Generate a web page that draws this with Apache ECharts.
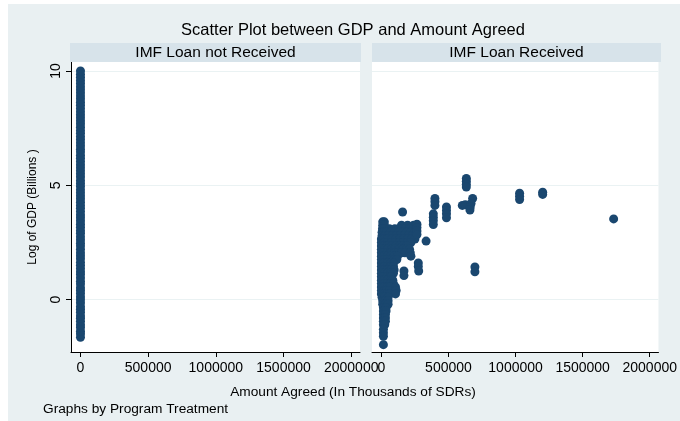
<!DOCTYPE html>
<html><head><meta charset="utf-8">
<script src="https://cdn.jsdelivr.net/npm/echarts@6/dist/echarts.min.js"></script>
<style>html,body{margin:0;padding:0;background:#fff}#c{width:680px;height:421px}</style>
</head><body><div id="c"></div><script>
// ---- data ----
const chartTitle = 'Scatter Plot between GDP and Amount Agreed';
const panelTitles = ['IMF Loan not Received', 'IMF Loan Received'];
const xAxisTitle = 'Amount Agreed (In Thousands of SDRs)';
const yAxisTitle = 'Log of GDP (Billions )';
const noteText = 'Graphs by Program Treatment';
const xTicks = [0, 500000, 1000000, 1500000, 2000000];
const yTicks = [0, 5, 10];

// Panel 1: loan not received (amount agreed = 0)
const notReceivedAmount = 0;
const notReceivedLogGDP = [-1.65, -1.5, -1.38, -1.22, -1.1, -0.95, -0.81, -0.7, -0.55, -0.42, -0.3, -0.14, 0.0, 0.12, 0.27, 0.4, 0.52, 0.68, 0.8, 0.95, 1.1, 1.22, 1.36, 1.5, 1.63, 1.79, 1.92, 2.05, 2.2, 2.34, 2.47, 2.61, 2.75, 2.9, 3.02, 3.17, 3.3, 3.44, 3.58, 3.7, 3.85, 3.99, 4.12, 4.26, 4.4, 4.53, 4.67, 4.8, 4.95, 5.08, 5.21, 5.36, 5.5, 5.63, 5.77, 5.9, 6.04, 6.18, 6.31, 6.45, 6.58, 6.72, 6.86, 7.0, 7.13, 7.27, 7.4, 7.54, 7.68, 7.81, 7.95, 8.08, 8.22, 8.36, 8.5, 8.63, 8.77, 8.9, 9.04, 9.18, 9.31, 9.45, 9.58, 9.72, 9.85, 10.0];

// Panel 2: loan received — rows of points sharing a log-GDP level
const receivedRowLogGDP = [3.40, 3.25, 3.10, 2.95, 2.80, 2.65, 2.50, 2.35, 2.20, 2.05, 1.90, 1.75, 1.60, 1.45, 1.30, 1.15, 1.00, 0.85, 0.70, 0.55, 0.40, 0.25, 0.10, -0.05, -0.20, -0.35, -0.50, -0.65, -0.80, -0.95, -1.10, -1.30, -1.45, -1.60, -1.97];
const receivedRowAmounts = [
  [10000, 22000],
  [10000, 22000, 150000, 195000, 240000, 262000],
  [8000, 20000, 60000, 100000, 130000, 155000, 180000, 210000, 240000, 262000],
  [5000, 20000, 40000, 70000, 100000, 130000, 160000, 190000, 220000, 250000],
  [5000, 25000, 50000, 80000, 110000, 140000, 170000, 200000, 230000, 255000],
  [0, 20000, 45000, 75000, 105000, 135000, 165000, 195000, 225000, 250000],
  [0, 20000, 45000, 75000, 105000, 135000, 165000, 195000, 220000],
  [0, 20000, 45000, 75000, 105000, 135000, 160000, 190000],
  [0, 20000, 45000, 75000, 100000, 130000, 160000, 185000, 210000],
  [0, 20000, 45000, 70000, 100000, 125000, 150000, 175000, 215000],
  [0, 20000, 45000, 70000, 95000, 120000, 220000],
  [0, 20000, 45000, 70000, 95000, 115000],
  [0, 20000, 45000, 70000, 90000],
  [0, 20000, 45000, 70000, 90000],
  [0, 20000, 45000, 70000, 95000],
  [0, 20000, 45000, 70000, 90000],
  [0, 20000, 45000, 70000],
  [0, 20000, 45000, 70000, 85000],
  [0, 20000, 45000, 65000, 90000],
  [0, 20000, 45000, 65000, 105000],
  [0, 20000, 40000, 60000, 110000],
  [0, 20000, 40000, 60000, 105000],
  [5000, 25000, 50000],
  [10000, 30000, 50000],
  [10000, 30000, 50000],
  [15000, 35000],
  [15000, 35000],
  [15000, 30000],
  [15000, 30000],
  [15000, 30000],
  [15000, 25000],
  [15000],
  [15000],
  [15000],
  [15000]
];
// Panel 2: scattered larger agreements [amount, logGDP]
const receivedOutliers = [
  [1731000, 3.53],
  [1202000, 4.70], [1202000, 4.60],
  [1030000, 4.65], [1030000, 4.52], [1030000, 4.38],
  [633000, 5.30], [633000, 5.18], [633000, 5.05], [633000, 4.92],
  [603000, 4.12], [625000, 4.15],
  [680000, 4.42], [668000, 4.20], [662000, 4.05], [660000, 3.92],
  [697000, 1.43], [697000, 1.22],
  [485000, 4.05], [485000, 3.90], [485000, 3.75], [485000, 3.58],
  [399000, 4.42], [399000, 4.28], [399000, 4.12],
  [387000, 3.75], [387000, 3.60], [387000, 3.45], [387000, 3.28],
  [333000, 2.56],
  [158000, 3.83],
  [265000, 3.30], [265000, 3.15], [265000, 3.00], [265000, 2.85],
  [275000, 1.60], [275000, 1.45], [278000, 1.25],
  [168000, 1.25], [168000, 1.05]
];

// ---- build ----
const panel1 = notReceivedLogGDP.map(y => [notReceivedAmount, y]);
const panel2 = [];
receivedRowLogGDP.forEach((y, i) => receivedRowAmounts[i].forEach(x => panel2.push([x, y])));
receivedOutliers.forEach(p => panel2.push(p));

const FONT = 'Liberation Sans, Arial, sans-serif';
const navy = '#1a476f';
const gridTop = 62, gridH = 290, gridW = 289;
const grids = [
  {left: 71, top: gridTop, width: gridW, height: gridH, show: true, backgroundColor: '#ffffff', borderWidth: 0},
  {left: 372, top: gridTop, width: gridW, height: gridH, show: true, backgroundColor: '#ffffff', borderWidth: 0}
];
const xMin = -70000, xMax = 2065000, yMin = -2.29, yMax = 10.39;
function xAx(i) {
  return {
    type: 'value', gridIndex: i, min: xMin, max: xMax,
    axisLine: {show: true, onZero: false, lineStyle: {color: '#000', width: 1}},
    axisTick: {show: true, length: 5, customValues: xTicks, lineStyle: {color: '#000'}},
    axisLabel: {show: true, customValues: xTicks, formatter: v => String(v), color: '#000', fontSize: 14, fontFamily: FONT, margin: 9, hideOverlap: false},
    splitLine: {show: false}
  };
}
function yAx(i) {
  return {
    type: 'value', gridIndex: i, min: yMin, max: yMax,
    axisLine: {show: i === 0, onZero: false, lineStyle: {color: '#000', width: 1}},
    axisTick: {show: i === 0, length: 5, customValues: yTicks, lineStyle: {color: '#000'}},
    axisLabel: {show: i === 0, customValues: yTicks, formatter: v => String(v), rotate: 90, color: '#000', fontSize: 14, fontFamily: FONT, margin: 8},
    splitLine: {show: true, lineStyle: {color: '#eaf2f3', width: 1}}
  };
}
const chart = echarts.init(document.getElementById('c'), null, {renderer: 'canvas'});
chart.setOption({
  animation: false,
  backgroundColor: '#ffffff',
  grid: grids,
  xAxis: [xAx(0), xAx(1)],
  yAxis: [yAx(0), yAx(1)],
  series: [
    {type: 'scatter', xAxisIndex: 0, yAxisIndex: 0, data: panel1, symbolSize: 9, itemStyle: {color: navy, opacity: 1}, silent: true},
    {type: 'scatter', xAxisIndex: 1, yAxisIndex: 1, data: panel2, symbolSize: 9, itemStyle: {color: navy, opacity: 1}, silent: true}
  ],
  graphic: [
    {type: 'rect', z: -10, silent: true, shape: {x: 8, y: 4, width: 672, height: 417}, style: {fill: '#e9f0f2'}},
    {type: 'rect', z: 1, silent: true, shape: {x: 70, y: 43, width: 291, height: 19}, style: {fill: '#d7e3ea'}},
    {type: 'rect', z: 1, silent: true, shape: {x: 372, y: 43, width: 289, height: 19}, style: {fill: '#d7e3ea'}},
    {type: 'text', z: 2, silent: true, x: 215.5, y: 52.5, style: {text: panelTitles[0], fill: '#000', font: '15.5px ' + FONT, textAlign: 'center', textVerticalAlign: 'middle'}},
    {type: 'text', z: 2, silent: true, x: 516.5, y: 52.5, style: {text: panelTitles[1], fill: '#000', font: '15.5px ' + FONT, textAlign: 'center', textVerticalAlign: 'middle'}},
    {type: 'text', z: 2, silent: true, x: 353, y: 30, style: {text: chartTitle, fill: '#000', font: '16.5px ' + FONT, textAlign: 'center', textVerticalAlign: 'middle'}},
    {type: 'text', z: 2, silent: true, x: 353, y: 392, style: {text: xAxisTitle, fill: '#000', font: '13.7px ' + FONT, textAlign: 'center', textVerticalAlign: 'middle'}},
    {type: 'text', z: 2, silent: true, x: 43, y: 409, style: {text: noteText, fill: '#000', font: '13.7px ' + FONT, textAlign: 'left', textVerticalAlign: 'middle'}},
    {type: 'text', z: 2, silent: true, x: 33, y: 207, rotation: Math.PI / 2, style: {text: yAxisTitle, fill: '#000', font: '12px ' + FONT, textAlign: 'center', textVerticalAlign: 'middle'}}
  ]
});
</script></body></html>
